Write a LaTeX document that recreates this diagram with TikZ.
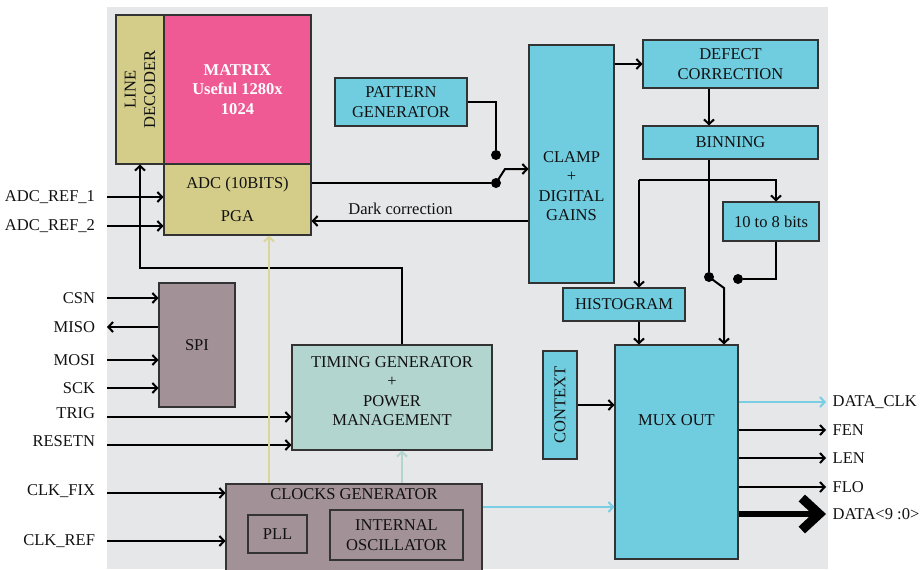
\documentclass[tikz,border=0pt]{standalone}
\usepackage{fontspec}
\setmainfont{Liberation Serif}
\usetikzlibrary{arrows.meta,positioning}

\definecolor{panelbg}{HTML}{E6E7E9}
\definecolor{ink}{HTML}{111111}
\definecolor{edge}{HTML}{333333}
\definecolor{pixpink}{HTML}{EF5A95}
\definecolor{khaki}{HTML}{D3CD89}
\definecolor{digcyan}{HTML}{70CDE0}
\definecolor{mauve}{HTML}{A29298}
\definecolor{mint}{HTML}{B3D5CF}
\definecolor{ylwire}{HTML}{DAD69A}
\definecolor{cywire}{HTML}{7ACEE3}

\begin{document}
\begin{tikzpicture}[x=0.75pt, y=-0.75pt,
    >={Straight Barb[length=3.5pt,width=7.5pt]},
    every node/.style={font=\fontsize{12.4}{14.5}\selectfont, text=ink},
    blk/.style={draw=edge, line width=0.8pt, inner sep=0pt, align=center},
    wire/.style={line width=1.5pt},
    dot/.style={circle, fill=black, inner sep=0pt, minimum size=7.5pt},
    inlbl/.style={anchor=east, inner sep=2pt, outer sep=7pt},
    outlbl/.style={anchor=west, inner sep=2pt, outer sep=3pt}]
    \useasboundingbox (0,0) rectangle (920,569);
    \fill[panelbg] (107,7) rectangle (828,569);

    % sensor core
    \node[blk, fill=pixpink, minimum width=110.25pt, minimum height=111.75pt, text=white, font=\fontsize{12.4}{14.5}\selectfont\bfseries] at (237.5,89.5) (matrix) {MATRIX\\Useful 1280x\\1024};
    \node[blk, fill=khaki, rotate=90, minimum width=111.75pt, minimum height=36pt] at (140,89.5) (decoder) {LINE\\DECODER};
    \node[blk, fill=khaki, minimum width=110.25pt, minimum height=53.25pt] at (237.5,199.5) (adc) {ADC (10BITS)\\[10pt]PGA};

    % digital path
    \node[blk, fill=digcyan, minimum width=99pt, minimum height=36pt] at (401,102) (pattern) {PATTERN\\GENERATOR};
    \node[blk, fill=digcyan, minimum width=63.75pt, minimum height=178.5pt] at (571.5,164) (clamp) {};
    \node[align=center] at (571.5,186) (clamptxt) {CLAMP\\+\\DIGITAL\\GAINS};
    \node[blk, fill=digcyan, minimum width=131.25pt, minimum height=36pt] at (730.5,64) (defect) {DEFECT\\CORRECTION};
    \node[blk, fill=digcyan, minimum width=131.25pt, minimum height=24.75pt] at (730.5,142.5) (binning) {BINNING};
    \node[blk, fill=digcyan, minimum width=72pt, minimum height=29.25pt] at (771,221.5) (tobits) {10 to 8 bits};
    \node[blk, fill=digcyan, minimum width=91.5pt, minimum height=24.75pt] at (624,304.5) (histo) {HISTOGRAM};
    \node[blk, fill=digcyan, rotate=90, minimum width=81pt, minimum height=25.5pt] at (560,405) (context) {CONTEXT};
    \node[blk, fill=digcyan, minimum width=92.25pt, minimum height=160.5pt] at (676.5,452) (mux) {};
    \node at (676.5,420) (muxtxt) {MUX OUT};

    % control and clocks
    \node[blk, fill=mauve, minimum width=57pt, minimum height=93pt] at (197,345) (spi) {SPI};
    \node[blk, fill=mint, minimum width=150pt, minimum height=78.75pt] at (392,397.5) (timing) {};
    \node[align=center] at (392,391) (timingtxt) {TIMING GENERATOR\\+\\POWER\\MANAGEMENT};
    \node[blk, fill=mauve, minimum width=192pt, minimum height=66pt] at (354,528) (clocks) {};
    \node at (354,494) (clockstxt) {CLOCKS GENERATOR};
    \node[blk, fill=mauve, minimum width=44.25pt, minimum height=28.5pt] at (277.5,534) (pll) {PLL};
    \node[blk, fill=mauve, minimum width=99.75pt, minimum height=37.5pt] at (396.5,535) (osc) {INTERNAL\\OSCILLATOR};

    % switches
    \node[dot] at (496,155) (pdot) {};
    \node[dot] at (496,183) (adot) {};
    \node[dot] at (709,277) (bdot) {};
    \node[dot] at (738,279) (edot) {};

    % pins
    \node[inlbl] at (107,197) (ref1) {ADC\_REF\_1};
    \node[inlbl] at (107,226) (ref2) {ADC\_REF\_2};
    \node[inlbl] at (107,298) (csn) {CSN};
    \node[inlbl] at (107,327) (miso) {MISO};
    \node[inlbl] at (107,360) (mosi) {MOSI};
    \node[inlbl] at (107,388) (sck) {SCK};
    \node[inlbl] at (107,413) (trig) {TRIG};
    \node[inlbl] at (107,441) (resetn) {RESETN};
    \node[inlbl] at (107,491) (clkfix) {CLK\_FIX};
    \node[inlbl] at (107,541) (clkref) {CLK\_REF};
    \node[outlbl] at (826,402) (dclk) {DATA\_CLK};
    \node[outlbl] at (826,430) (fen) {FEN};
    \node[outlbl] at (826,458) (len) {LEN};
    \node[outlbl] at (826,487) (flo) {FLO};
    \node[outlbl] at (826,514) (dbus) {DATA<9 :0>};

    \coordinate (tx) at (402,0);
    \coordinate (busl) at (639,180);
    \coordinate (busr) at (776,180);

    % input wires
    \draw[wire,->] (ref1.east) -- (ref1.east -| adc.west);
    \draw[wire,->] (ref2.east) -- (ref2.east -| adc.west);
    \draw[wire,->] (csn.east) -- (csn.east -| spi.west);
    \draw[wire,<-] (miso.east) -- (miso.east -| spi.west);
    \draw[wire,->] (mosi.east) -- (mosi.east -| spi.west);
    \draw[wire,->] (sck.east) -- (sck.east -| spi.west);
    \draw[wire,->] ([yshift=-3pt]trig.east) -- ([yshift=-3pt]trig.east -| timing.west);
    \draw[wire,->] ([yshift=-3pt]resetn.east) -- ([yshift=-3pt]resetn.east -| timing.west);
    \draw[wire,->] ([yshift=-1.5pt]clkfix.east) -- ([yshift=-1.5pt]clkfix.east -| clocks.west);
    \draw[wire,->] (clkref.east) -- (clkref.east -| clocks.west);

    % core wires
    \draw[wire,->] (timing.north -| tx) -- (tx |- 0,268) -| (decoder.west);
    \draw[wire,->, draw=ylwire] (clocks.north -| 269,0) -- (adc.south -| 269,0);
    \draw[wire,->, draw=mint] (clocks.north -| tx) -- (timing.south -| tx);
    \draw[wire] (adc.east |- adot) -- (adot);
    \draw[wire] (pattern.east) -| (pdot);
    \draw[wire,->] (adot.center) -- ++(9,-14) coordinate (lev) -- (lev -| clamp.west);
    \draw[wire,->] (clamp.west |- 0,221) -- (adc.east |- 0,221) node[pos=0.59, above=1pt] {Dark correction};

    % digital wires
    \draw[wire,->] (clamp.east |- defect) -- (defect.west);
    \draw[wire,->] (defect.south -| bdot) -- (binning.north -| bdot);
    \draw[wire] (binning.south -| bdot) -- (bdot);
    \draw[wire,->] (busl) -- (busr) -- (busr |- tobits.north);
    \draw[wire,->] (busl) -- (busl |- histo.north);
    \draw[wire,->] (busl |- histo.south) -- (busl |- mux.north);
    \draw[wire] (busr |- tobits.south) |- (edot);
    \draw[wire,->] (bdot.center) -- ++(15,11) coordinate (blev) -- (blev |- mux.north);
    \draw[wire,->] (context) -- (mux.west |- context);
    \draw[wire,->, draw=cywire] (clocks.east |- 0,507) -- (mux.west |- 0,507);

    % outputs
    \draw[wire,->, draw=cywire] (mux.east |- dclk.west) -- (dclk.west);
    \draw[wire,->] (mux.east |- fen.west) -- (fen.west);
    \draw[wire,->] (mux.east |- len.west) -- (len.west);
    \draw[wire,->] (mux.east |- flo.west) -- (flo.west);
    \draw[line width=4pt, -{Straight Barb[length=13pt,width=24pt,line width=7pt]}] (mux.east |- dbus.west) -- (dbus.west);
\end{tikzpicture}
\end{document}
